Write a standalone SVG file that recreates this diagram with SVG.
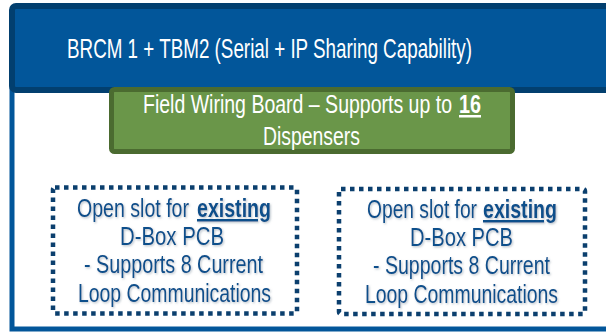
<svg xmlns="http://www.w3.org/2000/svg" width="606" height="332" viewBox="0 0 606 332">
<defs>
<filter id="sh" x="-10%" y="-20%" width="120%" height="140%">
<feDropShadow dx="1" dy="1.2" stdDeviation="0.8" flood-color="#7a8a9a" flood-opacity="0.55"/>
</filter>
</defs>
<style>
.t{font-family:"Liberation Sans Narrow","Arial Narrow","Liberation Sans",Arial,sans-serif;}
.hd{fill:#ffffff;font-size:28px;}
.gt{fill:#ffffff;font-size:25px;}
.bt{fill:#0d4f8b;font-size:25px;}
.b{font-weight:bold;text-decoration:underline;}
.dot{fill:none;stroke:#0b3f6e;stroke-width:4.5;stroke-dasharray:4.5 4.5;}
</style>
<g id="frame">
<rect x="12" y="40" width="620" height="289" fill="#ffffff" stroke="#02569a" stroke-width="5"/>
</g>
<g id="header">
<rect x="12" y="6" width="620" height="84" rx="4" fill="#02569a" stroke="#023f6f" stroke-width="6"/>
<text class="t hd" x="67" y="58" textLength="405" lengthAdjust="spacingAndGlyphs">BRCM 1 + TBM2 (Serial + IP Sharing Capability)</text>
</g>
<g id="field-wiring-board">
<rect x="111.5" y="89.5" width="401" height="62" rx="3" fill="#6a9649" stroke="#4b6b30" stroke-width="5"/>
<text class="t gt" x="143" y="113" textLength="309" lengthAdjust="spacingAndGlyphs">Field Wiring Board – Supports up to</text>
<text class="t gt b" x="459" y="113" textLength="22" lengthAdjust="spacingAndGlyphs">16</text>
<text class="t gt" x="263" y="145" textLength="97" lengthAdjust="spacingAndGlyphs">Dispensers</text>
</g>
<g id="dbox-slot-1">
<rect class="dot" x="53" y="187.5" width="244" height="126" rx="2"/>
<g filter="url(#sh)">
<text class="t bt" x="77" y="217" textLength="112" lengthAdjust="spacingAndGlyphs">Open slot for</text>
<text class="t bt b" x="197" y="217" textLength="74" lengthAdjust="spacingAndGlyphs">existing</text>
<text class="t bt" x="120" y="245" textLength="104" lengthAdjust="spacingAndGlyphs">D-Box PCB</text>
<text class="t bt" x="84" y="273" textLength="179" lengthAdjust="spacingAndGlyphs">- Supports 8 Current</text>
<text class="t bt" x="78" y="301.5" textLength="193" lengthAdjust="spacingAndGlyphs">Loop Communications</text>
</g>
</g>
<g id="dbox-slot-2">
<rect class="dot" x="339" y="189" width="246" height="125" rx="2"/>
<g filter="url(#sh)">
<text class="t bt" x="367" y="218" textLength="110" lengthAdjust="spacingAndGlyphs">Open slot for</text>
<text class="t bt b" x="483" y="218" textLength="74" lengthAdjust="spacingAndGlyphs">existing</text>
<text class="t bt" x="410" y="246" textLength="103" lengthAdjust="spacingAndGlyphs">D-Box PCB</text>
<text class="t bt" x="373" y="274" textLength="177" lengthAdjust="spacingAndGlyphs">- Supports 8 Current</text>
<text class="t bt" x="365" y="302.5" textLength="193" lengthAdjust="spacingAndGlyphs">Loop Communications</text>
</g>
</g>
<g id="connectors"></g>
</svg>
